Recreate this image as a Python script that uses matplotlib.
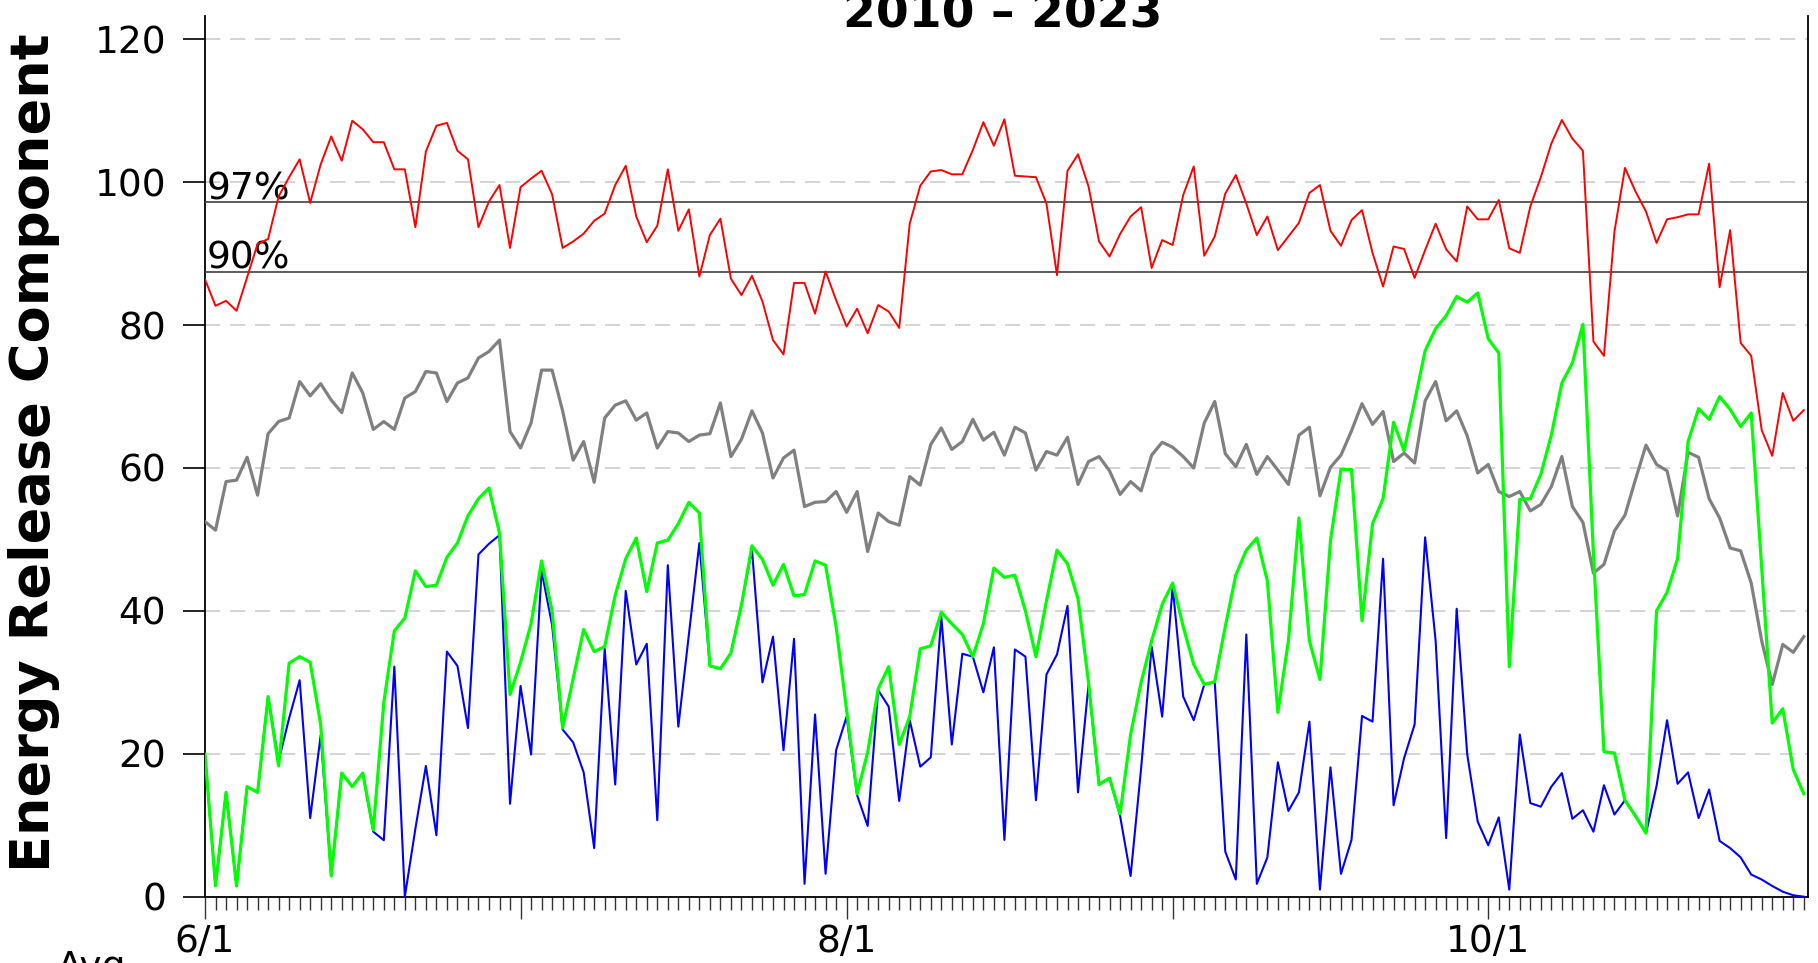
import matplotlib
matplotlib.use("Agg")
import matplotlib.pyplot as plt
import numpy as np
from matplotlib.patches import Rectangle

# 6/1 - 10/31 daily values (index 0 = 6/1)
red = [86.4, 82.7, 83.4, 82.0, 86.7, 91.35, 92.05, 98.0, 100.7, 103.2,
       97.1, 102.5, 106.4, 103.0, 108.6, 107.4, 105.6, 105.6, 101.8, 101.8,
       93.7, 104.3, 107.9, 108.3, 104.4, 103.2, 93.7, 97.3, 99.6, 90.8,
       99.3, 100.5, 101.6, 98.3, 90.8, 91.7, 92.8, 94.6, 95.6, 99.6,
       102.3, 95.2, 91.6, 93.9, 101.8, 93.2, 96.2, 86.8, 92.6, 94.9,
       86.5, 84.2, 86.9, 83.3, 77.9, 75.9, 85.9, 85.9, 81.6, 87.5,
       83.5, 79.8, 82.3, 78.85, 82.8, 81.9, 79.6, 94.2, 99.5, 101.5,
       101.7, 101.1, 101.1, 104.5, 108.4, 105.1, 108.8, 100.9, 100.8, 100.7,
       97.0, 87.0, 101.6, 103.9, 99.4, 91.7, 89.6, 92.75, 95.2, 96.5,
       88.0, 91.9, 91.2, 98.2, 102.2, 89.7, 92.4, 98.4, 101.0, 97.0,
       92.6, 95.2, 90.5, 92.4, 94.3, 98.5, 99.6, 93.2, 91.1, 94.7,
       96.1, 90.1, 85.4, 91.0, 90.65, 86.6, 90.5, 94.2, 90.6, 88.9,
       96.6, 94.8, 94.8, 97.5, 90.75, 90.1, 96.6, 100.7, 105.4, 108.7,
       106.1, 104.4, 77.7, 75.7, 93.1, 102.0, 98.7, 95.9, 91.5, 94.8,
       95.1, 95.5, 95.5, 102.6, 85.3, 93.3, 77.5, 75.7, 65.3, 61.7,
       70.5, 66.6, 68.1]

avg = [52.5, 51.3, 58.1, 58.3, 61.5, 56.2, 64.8, 66.5, 67.0, 72.1,
       70.1, 71.8, 69.5, 67.75, 73.3, 70.5, 65.4, 66.5, 65.4, 69.8,
       70.7, 73.5, 73.3, 69.3, 71.9, 72.6, 75.4, 76.3, 77.9, 65.1,
       62.8, 66.3, 73.7, 73.7, 68.0, 61.1, 63.7, 58.0, 67.0, 68.8,
       69.4, 66.7, 67.7, 62.8, 65.1, 64.9, 63.7, 64.6, 64.8, 69.1,
       61.6, 64.0, 68.0, 64.9, 58.6, 61.4, 62.5, 54.6, 55.2, 55.3,
       56.7, 53.8, 56.7, 48.3, 53.7, 52.5, 52.0, 58.8, 57.6, 63.3,
       65.6, 62.6, 63.7, 66.8, 63.9, 65.0, 61.8, 65.7, 64.9, 59.7,
       62.3, 61.8, 64.3, 57.7, 60.9, 61.6, 59.6, 56.3, 58.1, 56.8,
       61.8, 63.6, 62.9, 61.6, 60.0, 66.3, 69.3, 62.0, 60.2, 63.3,
       59.1, 61.6, 59.7, 57.7, 64.6, 65.7, 56.1, 60.1, 61.8, 65.2,
       69.0, 66.1, 67.9, 60.9, 62.1, 60.7, 69.4, 72.1, 66.6, 68.0,
       64.5, 59.3, 60.5, 56.7, 56.0, 56.7, 54.0, 54.9, 57.4, 61.6,
       54.6, 52.4, 45.3, 46.5, 51.2, 53.4, 58.4, 63.2, 60.5, 59.6,
       53.3, 62.2, 61.5, 55.7, 53.0, 48.8, 48.4, 43.9, 35.8, 29.7,
       35.3, 34.2, 36.4]

green = [19.95, 1.5, 14.6, 1.5, 15.4, 14.6, 28.0, 18.3, 32.7, 33.6,
         32.8, 24.1, 2.9, 17.3, 15.4, 17.3, 9.35, 27.2, 37.2, 39.0,
         45.6, 43.4, 43.6, 47.5, 49.5, 53.3, 55.7, 57.2, 50.9, 28.3,
         32.8, 38.2, 47.0, 40.0, 23.6, 30.5, 37.4, 34.3, 35.0, 42.2,
         47.3, 50.2, 42.7, 49.5, 49.9, 52.2, 55.2, 53.7, 32.3, 31.9,
         34.1, 40.8, 49.1, 47.2, 43.6, 46.5, 42.1, 42.3, 47.0, 46.4,
         37.8, 26.1, 14.4, 20.2, 29.1, 32.2, 21.3, 25.2, 34.7, 35.1,
         39.8, 38.2, 36.7, 33.6, 38.2, 46.0, 44.7, 45.0, 40.0, 33.6,
         41.4, 48.5, 46.6, 41.7, 30.0, 15.7, 16.6, 11.6, 22.7, 30.0,
         35.8, 40.9, 43.9, 37.8, 32.5, 29.7, 30.1, 37.8, 45.0, 48.5,
         50.2, 44.2, 25.8, 35.8, 53.0, 35.8, 30.4, 49.8, 59.8, 59.8,
         38.6, 52.2, 55.7, 66.4, 62.4, 69.3, 76.4, 79.5, 81.3, 84.0,
         83.2, 84.5, 78.1, 76.1, 32.2, 55.6, 55.7, 59.1, 64.6, 71.9,
         74.7, 80.1, 48.0, 20.3, 20.1, 13.5, 11.3, 8.9, 40.0, 42.6,
         47.3, 63.7, 68.3, 66.8, 70.0, 68.2, 65.8, 67.7, 46.0, 24.3,
         26.3, 17.8, 14.4]

blue = [19.95, 1.5, 14.6, 1.5, 15.4, 14.6, 28.0, 19.0, 25.0, 30.3,
        11.0, 22.6, 2.9, 17.3, 15.4, 17.3, 9.1, 7.9, 32.2, 0.0,
        9.5, 18.3, 8.6, 34.3, 32.3, 23.6, 47.9, 49.4, 50.6, 13.0,
        29.5, 19.9, 45.6, 38.0, 23.4, 21.6, 17.4, 6.8, 34.7, 15.7,
        42.8, 32.5, 35.4, 10.7, 46.4, 23.8, 36.6, 49.5, 32.3, 31.9,
        34.1, 40.8, 48.6, 30.0, 36.4, 20.5, 36.1, 1.8, 25.5, 3.2,
        20.5, 25.2, 14.2, 9.9, 28.9, 26.6, 13.4, 24.7, 18.2, 19.5,
        39.2, 21.3, 34.0, 33.6, 28.6, 34.9, 7.95, 34.6, 33.6, 13.5,
        31.1, 33.9, 40.7, 14.6, 29.7, 15.7, 16.6, 11.3, 2.9, 18.0,
        35.0, 25.2, 43.4, 28.0, 24.7, 29.7, 30.0, 6.3, 2.4, 36.7,
        1.8, 5.5, 18.8, 12.0, 14.6, 24.5, 1.0, 18.1, 3.2, 7.95,
        25.3, 24.5, 47.3, 12.8, 19.4, 24.1, 50.3, 35.8, 8.2, 40.3,
        19.95, 10.5, 7.2, 11.1, 1.0, 22.7, 13.1, 12.6, 15.4, 17.3,
        10.9, 12.1, 9.1, 15.6, 11.5, 13.5, 11.3, 8.9, 15.5, 24.7,
        15.8, 17.4, 11.0, 15.0, 7.8, 6.8, 5.5, 3.1, 2.4, 1.5,
        0.7, 0.2, 0.0]

pct_values = [97.2, 87.5]
pct_labels = ['97%', '90%']

month_starts = [0, 30, 61, 92, 122]      # 6/1, 7/1, 8/1, 9/1, 10/1
month_labels = ['6/1', '', '8/1', '', '10/1']

plt.rcParams['font.family'] = ['DejaVu Sans']
plt.rcParams['lines.scale_dashes'] = False

W, H = 1818, 963
fig = plt.figure(figsize=(W / 100, H / 100), dpi=100)
ax = fig.add_axes([205 / W, 1 - 896.7 / H, (1808 - 205) / W, (896.7 - 16) / H])

days = np.arange(len(red))

ax.plot(days, red, color='#ff0000', lw=1.4, zorder=4)
ax.plot(days, avg, color='#808080', lw=2.3, zorder=4)
ax.plot(days, blue, color='#0000ff', lw=1.5, zorder=4)
ax.plot(days, green, color='#00ff00', lw=2.3, zorder=5)

for v, lab in zip(pct_values, pct_labels):
    ax.axhline(v, color='#404040', lw=1.2, zorder=3)
    ax.text(0.2, v + 0.4, lab, fontsize=27, va='baseline', ha='left', zorder=3)

ax.set_xlim(0, 152.4)
ax.set_ylim(0, 123.26)

ax.set_yticks(np.arange(0, 121, 20))
ax.yaxis.grid(True, linestyle=(0, (11, 7)), color='#d4d4d4', lw=1.4)
ax.set_axisbelow(True)

ax.set_xticks(month_starts)
ax.set_xticklabels(month_labels)
ax.set_xticks([d for d in days if d not in month_starts], minor=True)

ax.tick_params(axis='y', direction='out', length=16, width=1.2, pad=12,
               labelsize=27, colors='black')
ax.tick_params(axis='x', which='major', direction='out', length=16, width=1.0,
               pad=4, labelsize=27, color='#333333')
ax.tick_params(axis='x', which='minor', direction='out', length=9, width=1.0,
               color='#333333')

for s in ['left', 'bottom', 'right']:
    ax.spines[s].set_color('black')
    ax.spines[s].set_linewidth(1.3)
ax.spines['top'].set_visible(False)

fig.text(34 / W, 1 - 453 / H, 'Energy Release Component', rotation=90,
         ha='center', va='center', fontsize=39, fontweight='bold')

# title (partly cut off at the top edge) with its white background
fig.add_artist(Rectangle((623 / W, 1 - 48 / H), (1379 - 623) / W, 48 / H,
                         transform=fig.transFigure, facecolor='white',
                         edgecolor='none', zorder=6))
fig.text(1002.5 / W, 1 - 28 / H, '2010 – 2023', ha='center', va='baseline',
         fontsize=34, fontweight='bold', zorder=7)

fig.text(57 / W, 1 - 978 / H, 'Avg', ha='left', va='baseline', fontsize=27)

fig.savefig('out.png', dpi=100)
